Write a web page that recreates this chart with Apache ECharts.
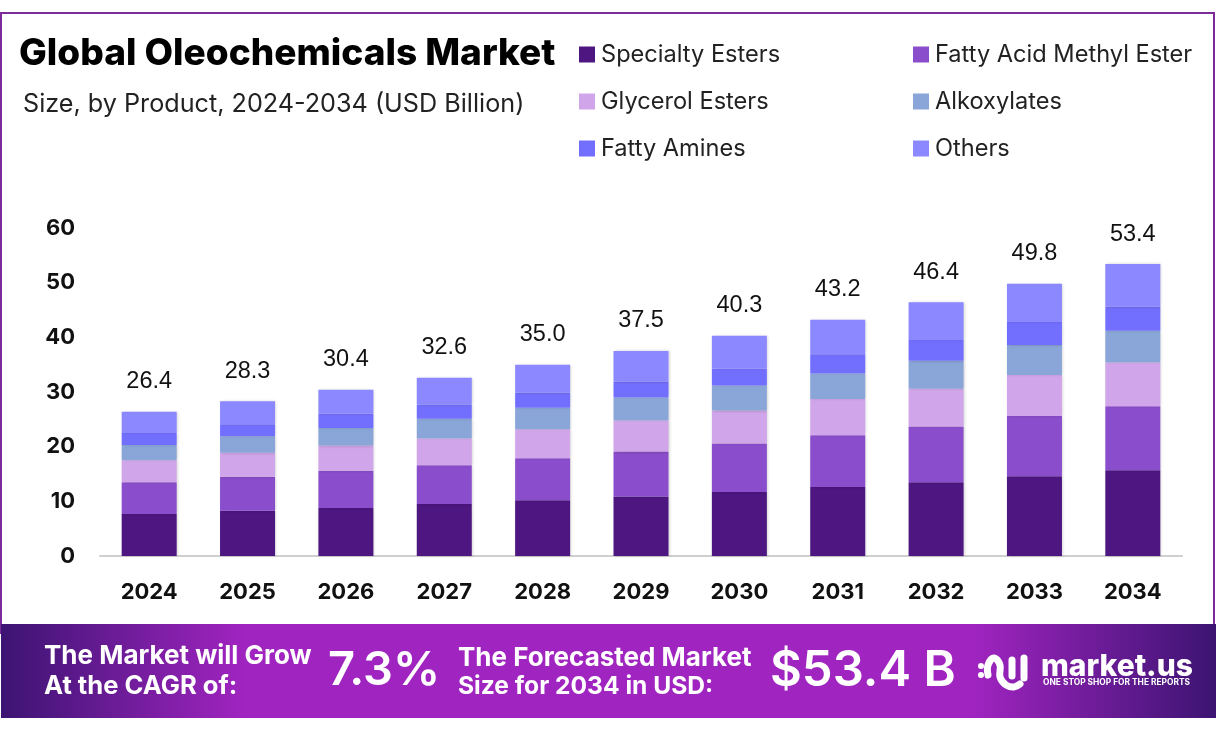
<!DOCTYPE html>
<html>
<head>
    <meta charset="utf-8">
    <title>Global Oleochemicals Market</title>
    <script src="https://cdn.jsdelivr.net/npm/echarts/dist/echarts.min.js"></script>
    <style>
        html, body { margin: 0; padding: 0; background: #fff; }
    </style>
</head>
<body>
<div id="chart-container" style="width: 1216px; height: 732px;"></div>
<script>
    // values
    var years = ['2024', '2025', '2026', '2027', '2028', '2029', '2030', '2031', '2032', '2033', '2034'];
    var totals = [26.4, 28.3, 30.4, 32.6, 35.0, 37.5, 40.3, 43.2, 46.4, 49.8, 53.4];

    var specialtyEsters = [7.7, 8.3, 8.8, 9.5, 10.2, 10.9, 11.7, 12.6, 13.5, 14.6, 15.7];
    var fattyAcidMethylEster = [5.8, 6.2, 6.8, 7.1, 7.7, 8.2, 8.9, 9.5, 10.2, 11.0, 11.7];
    var glycerolEsters = [4.0, 4.4, 4.6, 4.9, 5.3, 5.7, 6.0, 6.6, 6.9, 7.5, 8.0];
    var alkoxylates = [2.8, 3.0, 3.2, 3.6, 3.9, 4.2, 4.6, 4.7, 5.1, 5.5, 5.8];
    var fattyAmines = [2.2, 2.2, 2.6, 2.6, 2.8, 2.9, 3.1, 3.5, 3.8, 4.2, 4.4];
    var others = [3.9, 4.2, 4.4, 4.9, 5.1, 5.6, 6.0, 6.3, 6.9, 7.0, 7.8];

    var seriesNames = ['Specialty Esters', 'Fatty Acid Methyl Ester', 'Glycerol Esters', 'Alkoxylates', 'Fatty Amines', 'Others'];
    var seriesValues = [specialtyEsters, fattyAcidMethylEster, glycerolEsters, alkoxylates, fattyAmines, others];
    var seriesColors = ['#4d1681', '#8a4dcb', '#d1a5ea', '#8aa5d8', '#736ffe', '#8c88ff'];

    var mainFont = 'Inter';
    var bannerGradient = new echarts.graphic.LinearGradient(0, 0, 1, 0, [
        { offset: 0, color: '#3c1472' },
        { offset: 0.2, color: '#a024c0' },
        { offset: 0.8, color: '#a024c0' },
        { offset: 1, color: '#3c1472' }
    ]);

    function legendAt(left, names) {
        return {
            orient: 'vertical',
            left: left,
            top: 41,
            padding: 0,
            itemWidth: 16,
            itemHeight: 16,
            itemGap: 20,
            icon: 'rect',
            data: names,
            selectedMode: false,
            textStyle: { color: '#222', fontFamily: mainFont, fontSize: 23.6, lineHeight: 27, padding: [0, 0, 0, 1] }
        };
    }

    function bannerText(text, x, y, font, withShadow) {
        var style = { text: text, x: x, y: y, fill: '#fff', font: font, textVerticalAlign: 'middle' };
        if (withShadow) {
            style.shadowColor = 'rgba(40,0,70,0.55)';
            style.shadowBlur = 6;
            style.shadowOffsetX = 3;
            style.shadowOffsetY = 3;
        }
        return { type: 'text', z: 12, style: style };
    }

    var option = {
        animation: false,
        title: [
            {
                text: 'Global Oleochemicals Market',
                left: 19, top: 35, padding: 0,
                textStyle: { color: '#000', fontFamily: mainFont, fontWeight: 800, fontSize: 37 }
            },
            {
                text: 'Size, by Product, 2024-2034 (USD Billion)',
                left: 23, top: 92, padding: 0,
                textStyle: { color: '#222', fontFamily: mainFont, fontWeight: 400, fontSize: 25.2 }
            }
        ],
        legend: [
            legendAt(579, [seriesNames[0], seriesNames[2], seriesNames[4]]),
            legendAt(913, [seriesNames[1], seriesNames[3], seriesNames[5]])
        ],
        grid: { left: 100, right: 34, top: 228, bottom: 176 },
        xAxis: {
            type: 'category',
            data: years,
            axisLine: { lineStyle: { color: '#cfcfcf', width: 2 } },
            axisTick: { show: false },
            axisLabel: { color: '#111', fontFamily: mainFont, fontWeight: 700, fontSize: 22, margin: 25 }
        },
        yAxis: {
            type: 'value',
            min: 0,
            max: 60,
            interval: 10,
            axisLine: { show: false },
            axisTick: { show: false },
            splitLine: { show: false },
            axisLabel: { color: '#111', fontFamily: mainFont, fontWeight: 700, fontSize: 22, margin: 25 }
        },
        series: seriesNames.map(function (name, index) {
            var s = {
                name: name,
                type: 'bar',
                stack: 'total',
                barWidth: 55,
                itemStyle: {
                    color: seriesColors[index],
                    shadowColor: 'rgba(0,0,0,0.2)',
                    shadowBlur: 3,
                    shadowOffsetX: 1
                },
                data: seriesValues[index]
            };
            // totals sit above the last segment
            if (index === seriesNames.length - 1) {
                s.label = {
                    show: true,
                    position: 'top',
                    distance: 18,
                    color: '#111',
                    fontFamily: 'Liberation Sans',
                    fontSize: 23.5,
                    formatter: function (p) { return totals[p.dataIndex].toFixed(1); }
                };
            }
            return s;
        }),
        graphic: [
            // frame
            { type: 'rect', z: -1, shape: { x: 1, y: 13, width: 1213, height: 620 },
              style: { fill: '#fff', stroke: '#7d2a9c', lineWidth: 2 } },
            // banner
            { type: 'rect', z: 10, shape: { x: 1, y: 624, width: 1215, height: 94 },
              style: { fill: bannerGradient } },
            bannerText('The Market will Grow', 44, 656, '700 26px ' + mainFont),
            bannerText('At the CAGR of:', 44, 686, '700 25.6px ' + mainFont),
            bannerText('7.3%', 328, 671, '600 47px ' + mainFont, true),
            bannerText('The Forecasted Market', 458, 658, '700 26px ' + mainFont),
            bannerText('Size for 2034 in USD:', 458, 687, '700 24.6px ' + mainFont),
            bannerText('$53.4 B', 770, 671, '600 49px ' + mainFont, true),
            // logo
            { type: 'polyline', z: 12,
              shape: { points: [[988, 675], [988, 665], [994, 658], [1000, 665], [1000, 677], [1006, 685], [1014, 687], [1020, 684]], smooth: 0.4 },
              style: { stroke: '#fff', fill: null, lineWidth: 7, lineCap: 'round', lineJoin: 'round' } },
            { type: 'line', z: 12, shape: { x1: 1012, y1: 660, x2: 1012, y2: 676 },
              style: { stroke: '#fff', lineWidth: 7, lineCap: 'round' } },
            { type: 'line', z: 12, shape: { x1: 1024, y1: 658, x2: 1024, y2: 678 },
              style: { stroke: '#fff', lineWidth: 7, lineCap: 'round' } },
            { type: 'circle', z: 12, shape: { cx: 981, cy: 666, r: 3 }, style: { fill: '#fff' } },
            { type: 'circle', z: 12, shape: { cx: 981, cy: 675, r: 3 }, style: { fill: '#fff' } },
            bannerText('market.us', 1041, 667, '800 30px ' + mainFont),
            bannerText('ONE STOP SHOP FOR THE REPORTS', 1043, 682, '700 8.4px ' + mainFont)
        ]
    };

    var chart = echarts.init(document.getElementById('chart-container'));
    chart.setOption(option);
</script>
</body>
</html>
